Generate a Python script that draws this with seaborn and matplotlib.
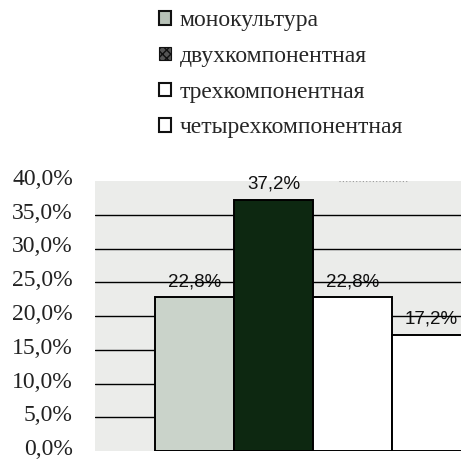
import matplotlib
matplotlib.use("Agg")
import matplotlib.pyplot as plt
import matplotlib.transforms as mtransforms
from matplotlib.patches import Patch
import seaborn as sns
import pandas as pd

# Доли посевов по типу культуры
categories = ["монокультура", "двухкомпонентная", "трехкомпонентная", "четырехкомпонентная"]
shares = [22.8, 37.2, 22.8, 17.2]
value_labels = ["22,8%", "37,2%", "22,8%", "17,2%"]
y_ticks = [0, 5, 10, 15, 20, 25, 30, 35, 40]
y_tick_labels = ["0,0%", "5,0%", "10,0%", "15,0%", "20,0%", "25,0%", "30,0%", "35,0%", "40,0%"]

bar_colors = ["#cad3ca", "#0d2811", "#ffffff", "#ffffff"]

sns.set_style("white")
plt.rcParams["font.family"] = ["Liberation Serif", "DejaVu Serif"]

df = pd.DataFrame({"type": categories, "share": shares})

fig = plt.figure(figsize=(4.61, 4.62), dpi=100)
fig.patch.set_facecolor("white")
ax = fig.add_axes([95 / 461, 1 - 451 / 462, 436 / 461, 270 / 462])
ax.set_facecolor("#ebecea")

sns.barplot(data=df, x="type", y="share", hue="type", palette=bar_colors,
            width=1.0, edgecolor="black", linewidth=1.4, saturation=1,
            legend=False, ax=ax, zorder=2)

ax.set_xlim(-1.26, 4.26)
ax.set_ylim(0, 40)

# horizontal gridlines
for v in y_ticks[1:-1]:
    ax.axhline(v, color="black", lw=1.0, zorder=1)
ax.axhline(40, color="#9a9a9a", lw=0.8, ls=(0, (1, 2)), xmin=0.56, xmax=0.72, zorder=1)

# value labels above bars
for i, (v, lab) in enumerate(zip(shares, value_labels)):
    ax.annotate(lab, (i, v), xytext=(0, 5), textcoords="offset points",
                ha="center", va="bottom", fontsize=13.5,
                family=["Liberation Sans", "DejaVu Sans"], color="#111111",
                zorder=0.5, annotation_clip=False)

ax.set_yticks(y_ticks)
ax.set_yticklabels(y_tick_labels, fontsize=17, color="#222222")
ax.tick_params(axis="y", length=0, pad=16)
lift = mtransforms.ScaledTranslation(0, 4 / 100, fig.dpi_scale_trans)
for lbl in ax.get_yticklabels():
    lbl.set_transform(lbl.get_transform() + lift)
ax.set_xticks([])
ax.set_xlabel("")
ax.set_ylabel("")
for s in ax.spines.values():
    s.set_visible(False)

handles = [
    Patch(facecolor="#b8c2b8", edgecolor="#111111", linewidth=1.5),
    Patch(facecolor="#555555", edgecolor="#111111", hatch="xxxx", linewidth=0.8),
    Patch(facecolor="white", edgecolor="#111111", linewidth=1.5),
    Patch(facecolor="white", edgecolor="#111111", linewidth=1.5),
]
fig.legend(handles, categories, loc="upper left",
           bbox_to_anchor=(150 / 461, 1 - 1 / 462), frameon=False,
           fontsize=17, handlelength=0.5, handleheight=0.5,
           handletextpad=0.35, labelspacing=0.62, borderaxespad=0)

fig.savefig("out.png", dpi=100, facecolor="white")
